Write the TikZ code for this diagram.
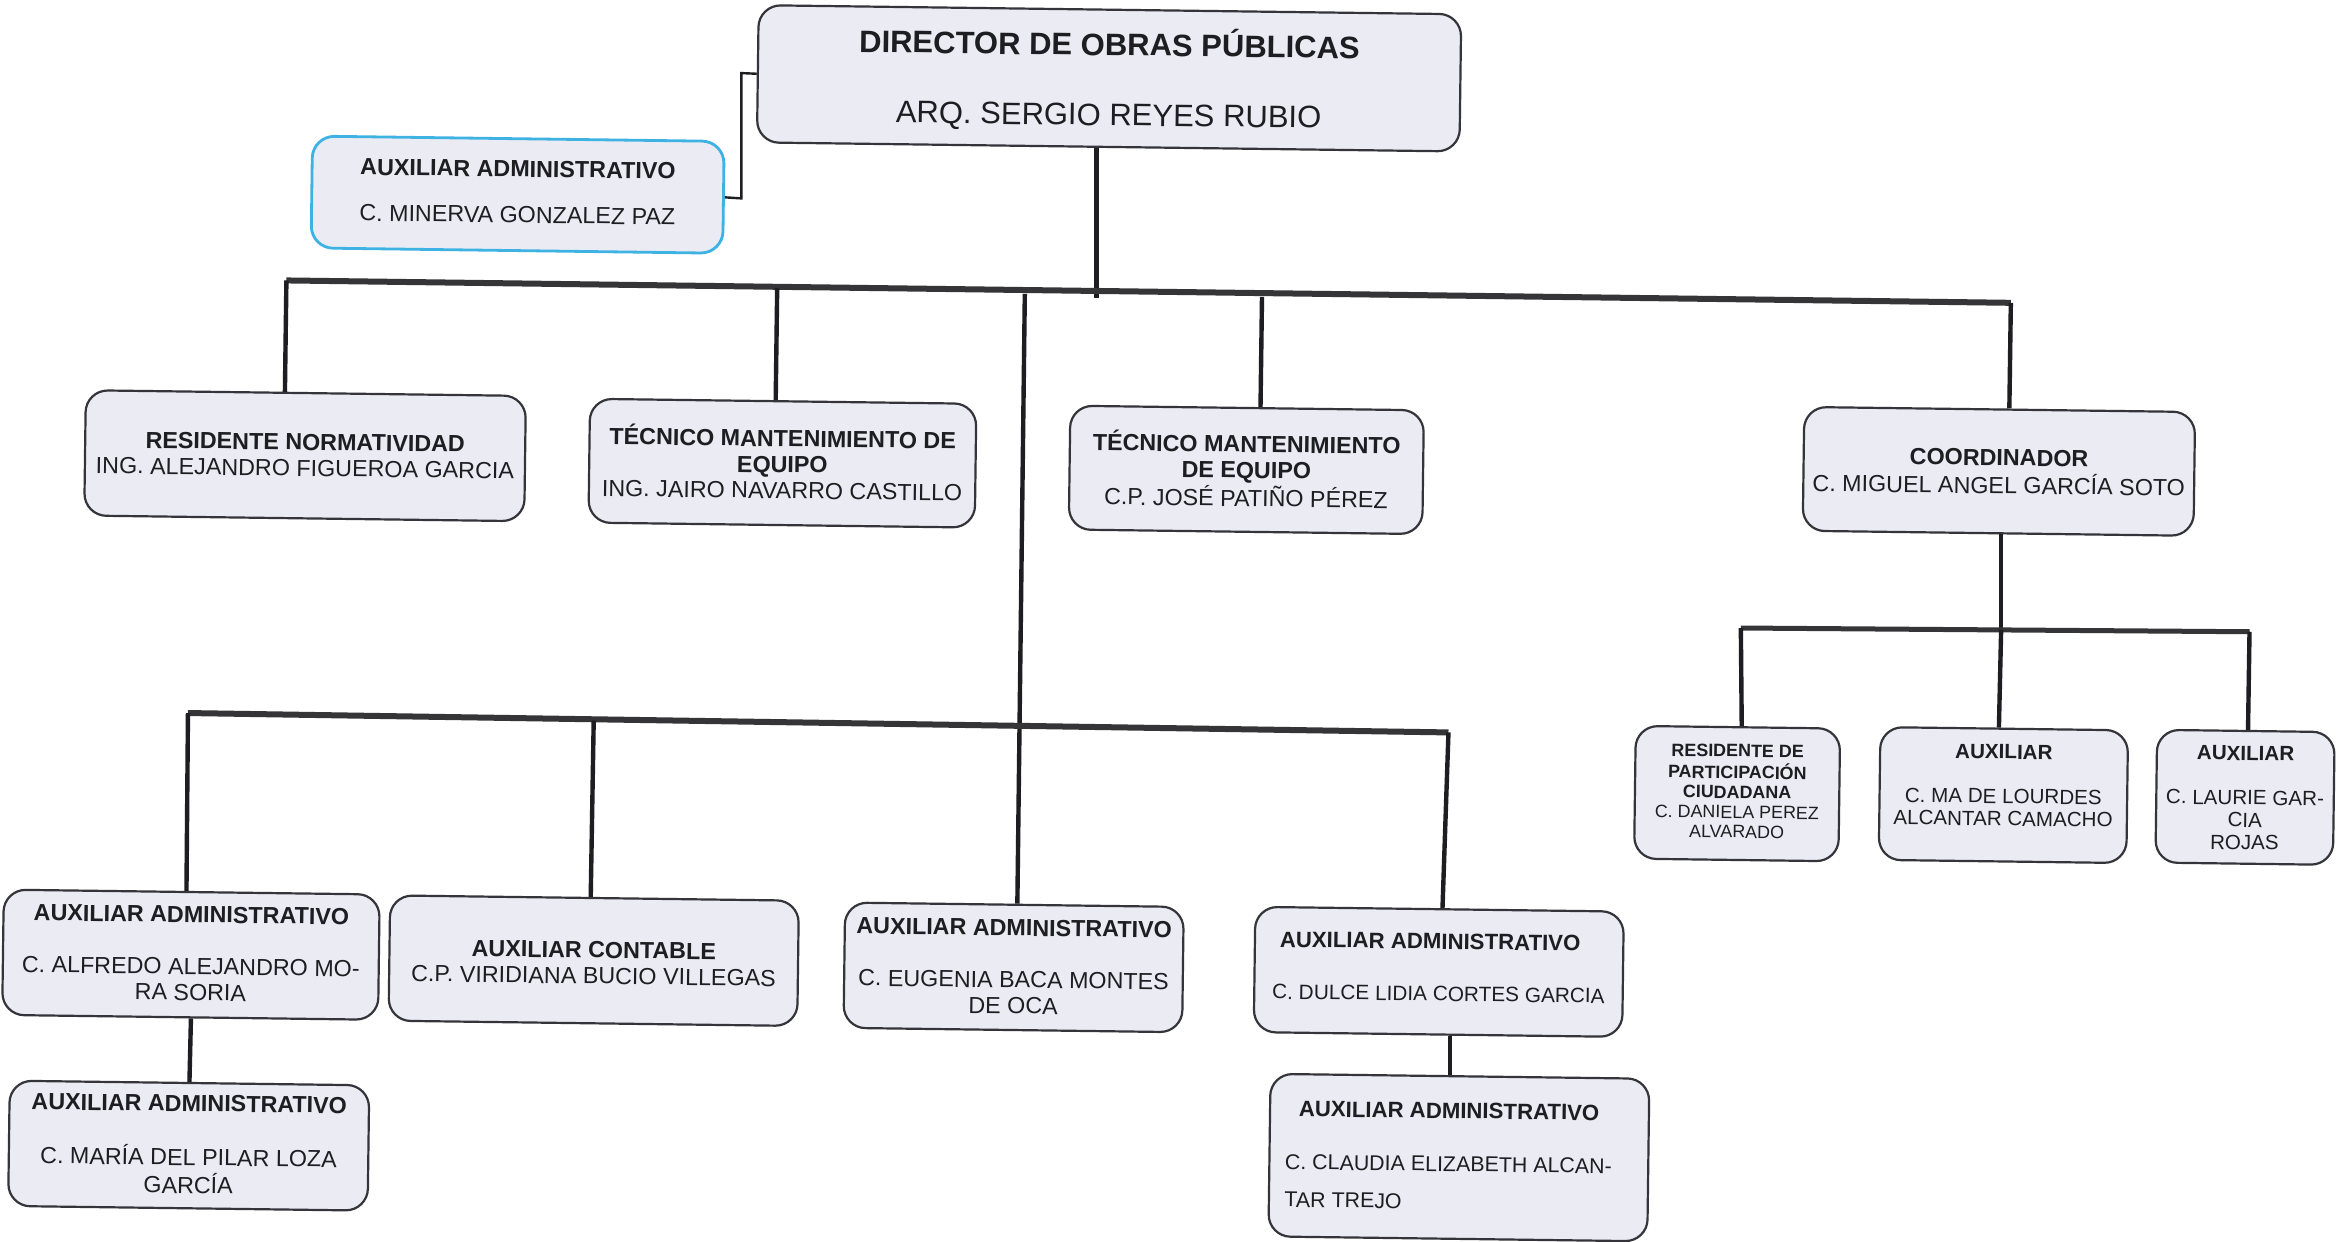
\documentclass[tikz,border=0pt]{standalone}
\usepackage{fontspec}
\setmainfont{Liberation Sans}
\definecolor{boxfill}{HTML}{EBECF3}
\definecolor{boxline}{HTML}{34343A}
\definecolor{blueline}{HTML}{3FB2E4}
\definecolor{inkc}{HTML}{1E1E22}
\tikzset{
  orgbox/.style={draw=boxline,line width=1.1pt,fill=boxfill,rounded corners=11pt,inner sep=0pt,rotate=-0.74,text=inkc},
  bluebox/.style={orgbox,draw=blueline,line width=1.4pt},
  bus/.style={draw=inkc!90,line width=3pt},
  drop/.style={draw=inkc,line width=2.2pt},
  thinlink/.style={draw=inkc,line width=1.2pt}
}
\newcommand{\orgnode}[9][orgbox]{%
  \node[#1,minimum width=#5*0.7459pt,minimum height=#6*0.7459pt] (#2) at (#3,#4)
    {\raisebox{\dimexpr #7pt-4.5pt\relax}[0pt][0pt]{#8\setlength\tabcolsep{0pt}\begin{tabular}[c]{@{}c@{}}#9\end{tabular}}};}
\newcommand{\fN}{\fontsize{11.65}{13}\selectfont}
\newcommand{\fS}{\fontsize{10.3}{11.2}\selectfont}
\newcommand{\fT}{\fontsize{8.95}{9.9}\selectfont}
\newcommand{\fH}{\fontsize{15.5}{18}\selectfont}
\newcommand{\fC}{\fontsize{10.4}{13}\selectfont}
\newcommand{\fD}{\fontsize{10.7}{13}\selectfont}
\newcommand{\fB}[1]{{\fontsize{11.1}{13}\selectfont\textbf{#1}}}
\begin{document}
\begin{tikzpicture}[x=0.7459pt,y=-0.7459pt]
\fill[white] (0,0) rectangle (1568,832.6);
\useasboundingbox (0,0) rectangle (1568,832.6);

\orgnode{dir}{743.5}{52.5}{471}{92}{-1}{\fH}{\textbf{DIRECTOR DE OBRAS PÚBLICAS}\\[17pt] ARQ. SERGIO REYES RUBIO}
\orgnode[bluebox]{minerva}{347}{130.5}{276}{75}{1.5}{\fN}{\textbf{AUXILIAR ADMINISTRATIVO}\\[10pt] C. MINERVA GONZALEZ PAZ}

\orgnode{res}{204.5}{305.5}{295}{84}{0.4}{\fN}{\textbf{RESIDENTE NORMATIVIDAD}\\ ING. ALEJANDRO FIGUEROA GARCIA}
\orgnode{tec1}{524.5}{310.5}{259}{83}{0}{\fN}{\textbf{TÉCNICO MANTENIMIENTO DE}\\ \textbf{EQUIPO}\\ ING. JAIRO NAVARRO CASTILLO}
\orgnode{tec2}{835.5}{315}{237}{83}{0}{\fN}{\textbf{TÉCNICO MANTENIMIENTO}\\ \textbf{DE EQUIPO}\\ C.P. JOSÉ PATIÑO PÉREZ}
\orgnode{coord}{1340}{316}{262}{83}{0}{\fN}{\textbf{COORDINADOR}\\ C. MIGUEL ANGEL GARCÍA SOTO}

\orgnode{part}{1164.5}{532}{137}{89}{2.3}{\fT}{\textbf{RESIDENTE DE}\\ \textbf{PARTICIPACIÓN}\\ \textbf{CIUDADANA}\\ C. DANIELA PEREZ\\ ALVARADO}
\orgnode{lourdes}{1343}{533}{166}{89}{5.6}{\fS}{\textbf{AUXILIAR}\\[11pt] C. MA DE LOURDES\\ ALCANTAR CAMACHO}
\orgnode{laurie}{1505}{534.5}{119}{89}{0.4}{\fS}{\textbf{AUXILIAR}\\[11pt] C. LAURIE GAR-\\ CIA\\ ROJAS}

\orgnode{alfredo}{128}{640}{252}{84}{0.7}{\fN}{\textbf{AUXILIAR ADMINISTRATIVO}\\[13pt] C. ALFREDO ALEJANDRO MO-\\ RA SORIA}
\orgnode{pilar}{126.5}{768}{241}{84}{0.7}{\fN}{\textbf{AUXILIAR ADMINISTRATIVO}\\[13pt] C. MARÍA DEL PILAR LOZA\\ GARCÍA}
\orgnode{contable}{398}{644}{274}{84}{-1}{\fN}{\textbf{AUXILIAR CONTABLE}\\ C.P. VIRIDIANA BUCIO VILLEGAS}
\orgnode{eugenia}{679.5}{648.5}{227}{84}{0.4}{\fN}{\textbf{AUXILIAR ADMINISTRATIVO}\\[13pt] C. EUGENIA BACA MONTES\\ DE OCA}
\orgnode{dulce}{964.5}{651.5}{247}{84}{3}{\fC}{\hspace*{-9pt}\fB{AUXILIAR ADMINISTRATIVO}\\[13pt] C. DULCE LIDIA CORTES GARCIA}
\orgnode{claudia}{978}{776}{254}{109}{1.2}{\fD\kern-10.4pt}{\fB{AUXILIAR ADMINISTRATIVO}\\[13.5pt] C. CLAUDIA ELIZABETH ALCAN-\\[5.8pt] \multicolumn{1}{@{}l@{}}{TAR TREJO}}

% junctions on the buses
\coordinate (b1l) at (192,188);
\coordinate (b1r) at (1348,203);
\coordinate (b1a) at (521,193);
\coordinate (b1c) at (687,197);
\coordinate (b1d) at (846,199);
\coordinate (b1t) at (735,200);
\coordinate (b2l) at (126,478);
\coordinate (b2r) at (971,491);
\coordinate (b2a) at (398,483);
\coordinate (b3l) at (1167,421);
\coordinate (b3r) at (1508,423.5);
\coordinate (b3m) at (1341.5,422);
\coordinate (elba) at (497,49);
\coordinate (elbb) at (497,133);

\draw[thinlink] (dir.west) -- (elba) -- (elbb) -- (minerva.east);
\draw[drop,line width=2.7pt] (735,0 |- dir.south) -- (b1t);
\draw[bus] (b1l) -- (b1r);
\draw[drop] (b1l) -- (191,0 |- res.north);
\draw[drop] (b1a) -- (520,0 |- tec1.north);
\draw[drop] (b1d) -- (845,0 |- tec2.north);
\draw[drop] (b1r) -- (1347,0 |- coord.north);
\draw[drop] (b1c) -- (682,0 |- eugenia.north);
\draw[bus] (b2l) -- (b2r);
\draw[drop] (b2l) -- (125,0 |- alfredo.north);
\draw[drop] (b2a) -- (396,0 |- contable.north);
\draw[drop] (b2r) -- (967,0 |- dulce.north);
\draw[drop] (128,0 |- alfredo.south) -- (127,0 |- pilar.north);
\draw[drop] (972,0 |- dulce.south) -- (972,0 |- claudia.north);
\draw[drop] (1341.5,0 |- coord.south) -- (b3m);
\draw[bus,line width=2.5pt] (b3l) -- (b3r);
\draw[drop] (b3l) -- (1167.6,0 |- part.north);
\draw[drop] (b3m) -- (1340,0 |- lourdes.north);
\draw[drop] (b3r) -- (1507,0 |- laurie.north);
\end{tikzpicture}
\end{document}
